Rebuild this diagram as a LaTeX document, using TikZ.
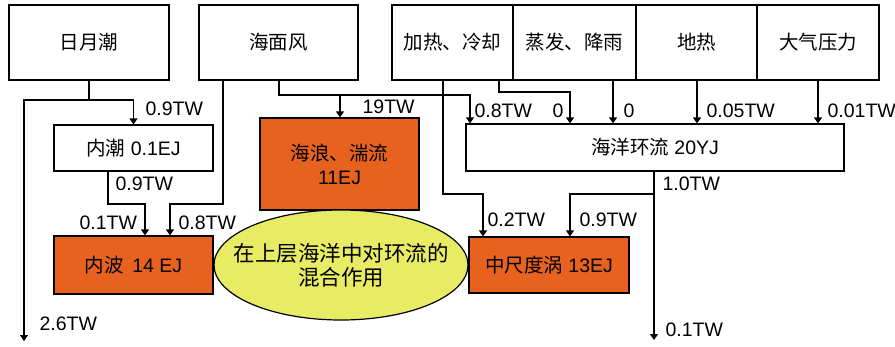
\documentclass[tikz,border=0pt]{standalone}
\usepackage{fontspec}
\setmainfont{Liberation Sans}
\newfontfamily\cjk{Noto Sans CJK SC}
\usetikzlibrary{arrows.meta,shapes.geometric}
\definecolor{boxorange}{HTML}{E8621F}
\definecolor{ellyellow}{HTML}{E8EC64}
\begin{document}
\begin{tikzpicture}[x=1pt,y=-1pt,line width=1.2pt,
  box/.style={draw,line width=1.2pt,inner sep=0pt,align=center,font=\fontsize{19.5}{24}\selectfont},
  hot/.style={box,fill=boxorange},
  lbl/.style={anchor=west,inner sep=0pt,font=\fontsize{19.5}{24}\selectfont},
  arr/.style={-{Triangle[width=8pt,length=6pt]}}]
\useasboundingbox (0,0) rectangle (895,346);
% top boxes
\node[box,minimum width=160pt,minimum height=75pt] (ry) at (89,42.5) {{\cjk 日月潮}};
\node[box,minimum width=159pt,minimum height=75pt] (hf) at (278.5,42.5) {{\cjk 海面风}};
\node[box,minimum width=121pt,minimum height=75pt] (jr) at (452.5,42.5) {{\cjk 加热、冷却}};
\node[box,minimum width=123pt,minimum height=75pt] (zf) at (574.5,42.5) {{\cjk 蒸发、降雨}};
\node[box,minimum width=121pt,minimum height=75pt] (dr) at (696.5,42.5) {{\cjk 地热}};
\node[box,minimum width=122pt,minimum height=75pt] (dq) at (818,42.5) {{\cjk 大气压力}};
% middle boxes
\node[box,minimum width=159pt,minimum height=46pt] (nc) at (133.5,148) {{\cjk 内潮} 0.1EJ};
\node[hot,minimum width=159pt,minimum height=92pt] (hl) at (339.5,164) {{\cjk 海浪、湍流}\\11EJ};
\node[box,minimum width=378pt,minimum height=47pt] (hy) at (655,147.5) {{\cjk 海洋环流} 20YJ};
% bottom
\node[hot,minimum width=159pt,minimum height=58pt] (nb) at (133.5,265) {{\cjk 内波} \,14 EJ};
\node[hot,minimum width=160pt,minimum height=56pt] (zc) at (549,265) {{\cjk 中尺度涡} 13EJ};
\node[ellipse,draw,fill=ellyellow,minimum width=254pt,minimum height=110pt,inner sep=0pt] (mix) at (341,265) {};
\node[inner sep=0pt,align=center,font=\fontsize{21.5}{24}\selectfont] (mixt) at (mix.center) {{\cjk 在上层海洋中对环流的}\\{\cjk 混合作用}};
% coordinates
\coordinate (j1) at (89,100);
\coordinate (o1) at (24,341);
\coordinate (a2) at (108,204);
\coordinate (b2) at (145,204);
\coordinate (a3) at (223,204);
\coordinate (b3) at (170,204);
\coordinate (a4) at (279,95);
\coordinate (b4) at (470,95);
\coordinate (c4) at (340,95);
\coordinate (a5) at (443,194);
\coordinate (b5) at (483,194);
\coordinate (a6) at (499,92);
\coordinate (b6) at (570,92);
\coordinate (a7) at (613,100);
\coordinate (a8) at (697,100);
\coordinate (a9) at (818,100);
\coordinate (a10) at (654,194);
\coordinate (b10) at (570,194);
\coordinate (o10) at (654,340);
% connectors
\draw (ry.south) -- (j1);
\draw[arr] (j1) -| (nc.north);
\draw[arr] (j1) -| (o1);
\draw[arr] (nc.south -| a2) -- (a2) -- (b2) -- (nb.north -| b2);
\draw[arr] (hf.south -| a3) -- (a3) -- (b3) -- (nb.north -| b3);
\draw[arr] (hf.south -| a4) -- (a4) -- (b4) -- (hy.north -| b4);
\draw[arr] (c4) -- (hl.north -| c4);
\draw[arr] (jr.south -| a5) -- (a5) -- (b5) -- (zc.north -| b5);
\draw[arr] (jr.south -| a6) -- (a6) -- (b6) -- (hy.north -| b6);
\draw[arr] (zf.south -| a7) -- (hy.north -| a7);
\draw[arr] (dr.south -| a8) -- (hy.north -| a8);
\draw[arr] (dq.south -| a9) -- (hy.north -| a9);
\draw[arr] (hy.south -| a10) -- (o10);
\draw[arr] (a10) -- (b10) -- (zc.north -| b10);
% labels
\node[lbl] (l1) at (145,109) {0.9TW};
\node[lbl] (l2) at (362,107) {19TW};
\node[lbl] (l3) at (474,111) {0.8TW};
\node[lbl] (l4) at (552,111) {0};
\node[lbl] (l5) at (623,111) {0};
\node[lbl] (l6) at (706,111) {0.05TW};
\node[lbl] (l7) at (827,111) {0.01TW};
\node[lbl] (l8) at (39,324) {2.6TW};
\node[lbl] (l9) at (115,184) {0.9TW};
\node[lbl] (l10) at (79,223) {0.1TW};
\node[lbl] (l11) at (178,223) {0.8TW};
\node[lbl] (l12) at (487,220) {0.2TW};
\node[lbl] (l13) at (579,220) {0.9TW};
\node[lbl] (l14) at (662,184) {1.0TW};
\node[lbl] (l15) at (665,330) {0.1TW};
\end{tikzpicture}
\end{document}
